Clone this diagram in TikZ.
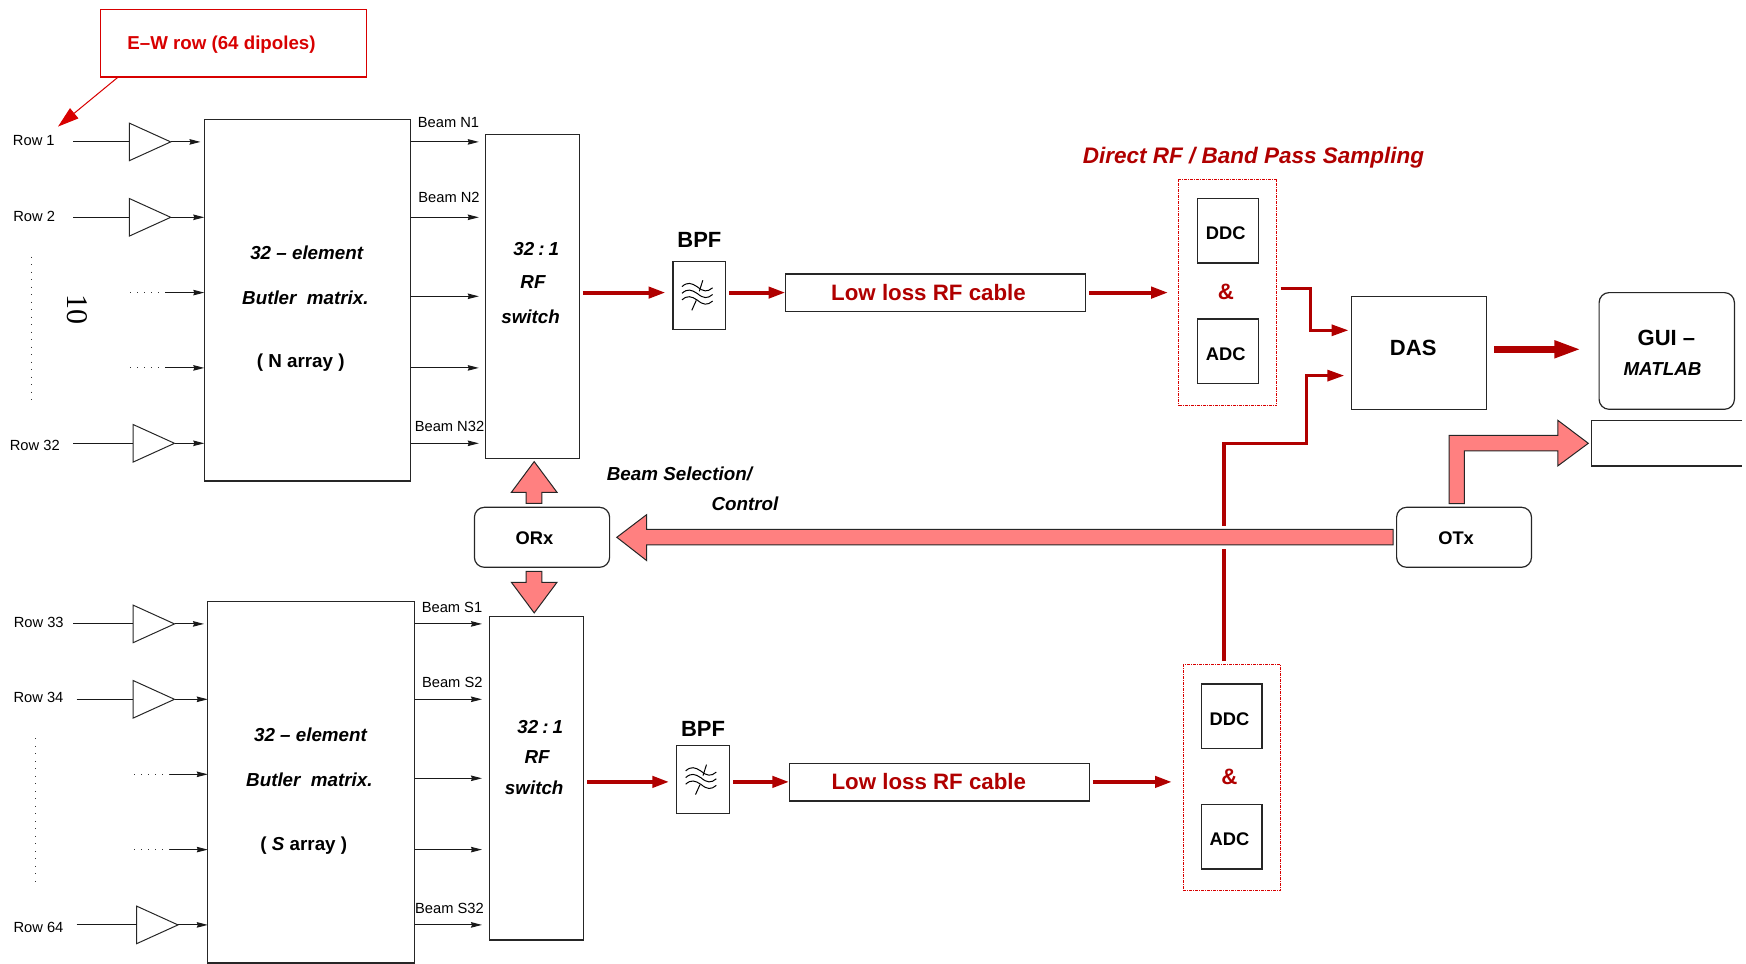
\documentclass[tikz,border=0pt]{standalone}
\usepackage{fontspec}
\setmainfont{Liberation Sans}
\newfontfamily\tenfont{Liberation Serif}
\usetikzlibrary{arrows.meta,shapes.geometric}
\definecolor{rfred}{HTML}{B00000}
\definecolor{ewred}{HTML}{D80000}
\definecolor{pinkfill}{HTML}{FF8080}
\newcommand{\bx}[6][box]{\node[#1,minimum width={(#5-#3)*1pt},minimum height={(#6-#4)*1pt}] (#2) at ({(#3+#5)/2},{(#4+#6)/2}) {};}
\newcommand{\tx}[5]{\node[#1] (#2) at (#3,#4) {#5};}
\newcommand{\filtersym}[1]{%
  \begin{scope}[shift={(#1)},line width=1]
    \foreach \dy in {0,6.7,13.3}{
      \draw (-17.3,-8.7+\dy) .. controls (-12,-13.5+\dy) and (-8,-12.5+\dy) .. (-2,-8.5+\dy)
            .. controls (4,-3.5+\dy) and (8,-3+\dy) .. (13.3,-7.5+\dy);
    }
    \draw (3.5,-15) -- (0,-4);
    \draw (-3,5) -- (-7.5,15);
  \end{scope}}
\newcommand{\ratio}{32\hspace{4pt}:\hspace{4pt}1}
\tikzset{
  box/.style={draw=black!85,line width=1.2,inner sep=0pt,outer sep=0pt},
  rbox/.style={box,rounded corners=10pt},
  dashbox/.style={draw=ewred,line width=1,inner sep=0pt,outer sep=0pt,dash pattern=on 3pt off 1pt on 1pt off 1pt},
  ewbox/.style={draw=ewred,line width=1.3,inner sep=0pt,outer sep=0pt},
  tri/.style={isosceles triangle,isosceles triangle stretches,draw=black!85,line width=1,inner sep=0pt,outer sep=0pt,minimum height=41.4pt,minimum width=37.6pt,anchor=apex},
  lab/.style={inner sep=0pt,font=\fontsize{14.7}{16}\selectfont},
  bi/.style={inner sep=0pt,font=\fontsize{18.8}{20}\selectfont\bfseries\itshape},
  bu/.style={inner sep=0pt,font=\fontsize{18.3}{20}\selectfont\bfseries},
  bl/.style={inner sep=0pt,font=\fontsize{22}{24}\selectfont\bfseries},
  rft/.style={inner sep=0pt,text=rfred,font=\fontsize{22.3}{24}\selectfont\bfseries},
  sig/.style={line width=1,draw=black!90,-{Stealth[length=11pt,width=5.5pt,inset=1pt]}},
  plain/.style={line width=1,draw=black!90},
  rowdots/.style={line width=1.1,draw=black!80,dash pattern=on 1.1pt off 5.9pt},
  coldots/.style={line width=1.1,draw=black!80,dash pattern=on 1.1pt off 6.4pt},
  rf/.style={line width=4,draw=rfred,-{Triangle[length=17pt,width=11pt]}},
  rfthin/.style={line width=3.2,draw=rfred,miter limit=10},
  blk/.style={fill=pinkfill,draw=black!85,line width=1,miter limit=10},
}
\begin{document}
\begin{tikzpicture}[x=1pt,y=-1pt]
\useasboundingbox (0,-0.6) rectangle (1746,963.4);
% E-W callout
\bx[ewbox]{ew}{100.3}{8.7}{366.6}{76.3}
\tx{inner sep=0pt,text=ewred,font=\fontsize{18.7}{20}\selectfont\bfseries}{ewt}{221.5}{44.5}{E–W row (64 dipoles)}
\coordinate (rowone) at (58,126);
\draw[line width=1,draw=ewred,-{Triangle[length=21pt,width=13pt]}] ([shift={(17.2,0.7)}]ew.south west) -- (rowone);
% Main blocks
\bx{nb}{204.3}{118.7}{410.6}{480.3}
\bx{ns}{485.3}{133.7}{579.8}{457.7}
\bx{sb}{207.8}{600.7}{414.8}{962.3}
\bx{ss}{489.5}{615.7}{583.2}{939.3}
% Butler N text
\tx{bi}{nb1}{306.7}{251.7}{32 – element}
\tx{bi}{nb2}{305.4}{296.7}{Butler\ \ matrix.}
\tx{inner sep=0pt,font=\fontsize{18.8}{20}\selectfont\bfseries}{nb3}{300.7}{362.5}{( N array )}
\tx{bi}{ns1}{536.2}{248}{\ratio}
\tx{bi}{ns2}{533}{281.7}{RF}
\tx{bi}{ns3}{530.6}{315.7}{switch}
% Butler S text
\tx{bi}{sb1}{310.5}{733.7}{32 – element}
\tx{bi}{sb2}{309.4}{778.7}{Butler\ \ matrix.}
\tx{inner sep=0pt,font=\fontsize{18.8}{20}\selectfont\bfseries}{sb3}{303.8}{844.8}{( \textit{S} array )}
\tx{bi}{ss1}{540.2}{726.7}{\ratio}
\tx{bi}{ss2}{537.2}{756.7}{RF}
\tx{bi}{ss3}{534.2}{786.7}{switch}
% Row labels
\tx{lab}{l1}{33.8}{140}{Row 1}
\tx{lab}{l2}{34.2}{216}{Row 2}
\tx{lab}{l32}{34.8}{445}{Row 32}
\tx{lab}{l33}{38.7}{622}{Row 33}
\tx{lab}{l34}{38.5}{697}{Row 34}
\tx{lab}{l64}{38.5}{926.7}{Row 64}
% Amplifiers
\node[tri] (t1) at (170.7,141.3) {};
\node[tri] (t2) at (170.7,216.7) {};
\node[tri] (t32) at (174.5,442.7) {};
\node[tri] (t33) at (174.5,623.3) {};
\node[tri] (t34) at (174.5,698.7) {};
\node[tri] (t64) at (178,924.3) {};
\coordinate (i1) at (73,141.3);
\coordinate (i2) at (73,216.7);
\coordinate (i32) at (73,442.7);
\coordinate (i33) at (73,623.3);
\coordinate (i34) at (76.5,698.7);
\coordinate (i64) at (76.5,924.3);
\foreach \n in {1,2,32,33,34,64}{\draw[plain] (i\n) -- (t\n.lower side);}
\draw[sig,shorten >=3.8pt] (t1.apex) -- (t1.apex -| nb.west);
\draw[sig] (t2.apex) -- (t2.apex -| nb.west);
\draw[sig] (t32.apex) -- (t32.apex -| nb.west);
\draw[sig,shorten >=3.8pt] (t33.apex) -- (t33.apex -| sb.west);
\draw[sig] (t34.apex) -- (t34.apex -| sb.west);
\draw[sig] (t64.apex) -- (t64.apex -| sb.west);
% Elided rows
\coordinate (da3) at (130,292);   \coordinate (db3) at (165,292);
\coordinate (da4) at (130,367.3); \coordinate (db4) at (165,367.3);
\coordinate (da5) at (134,773.7); \coordinate (db5) at (169.5,773.7);
\coordinate (da6) at (134,849);   \coordinate (db6) at (169.5,849);
\foreach \n in {3,4,5,6}{\draw[rowdots] (da\n) -- (db\n);}
\draw[sig] (db3) -- (db3 -| nb.west);
\draw[sig] (db4) -- (db4 -| nb.west);
\draw[sig] (db5) -- (db5 -| sb.west);
\draw[sig] (db6) -- (db6 -| sb.west);
\coordinate (ca) at (31.8,256);  \coordinate (cb) at (31.8,402.7);
\coordinate (cc) at (35.6,737.7); \coordinate (cd) at (35.6,884);
\draw[coldots] (ca) -- (cb);
\draw[coldots] (cc) -- (cd);
\node[inner sep=0pt,rotate=-90,font=\fontsize{30}{32}\selectfont\tenfont] (ten) at (77.5,309) {10};
% Beam labels and outputs
\tx{lab}{bn1}{448.5}{122}{Beam N1}
\tx{lab}{bn2}{449}{196.7}{Beam N2}
\tx{lab}{bn32}{449.5}{426}{Beam N32}
\tx{lab}{bs1}{452}{607}{Beam S1}
\tx{lab}{bs2}{452.3}{682}{Beam S2}
\tx{lab}{bs32}{449.5}{908}{Beam S32}
\foreach \y in {141.3,216.7,295.7,367.3,442.7}{\draw[sig,shorten >=6.5pt] (nb.east |- 0,\y) -- (ns.west |- 0,\y);}
\foreach \y in {623.3,698.7,777.7,849,924.3}{\draw[sig,shorten >=7.5pt] (sb.east |- 0,\y) -- (ss.west |- 0,\y);}
% North chain
\bx{fn}{673}{260.7}{725.7}{328.7}
\filtersym{699.3,294.7}
\tx{bl}{fnl}{699.4}{239}{BPF}
\bx{cn}{785.5}{273.3}{1085.5}{311}
\tx{rft}{cnl}{928.5}{292.2}{Low loss RF cable}
\bx[dashbox]{dn}{1178.6}{179}{1276.8}{405}
\bx{ddcn}{1197.6}{197.7}{1258.3}{262.3}
\bx{adcn}{1197.6}{318.3}{1258.3}{382.7}
\tx{bu}{ddcnl}{1225.8}{232.3}{DDC}
\tx{bu}{adcnl}{1225.8}{353.3}{ADC}
\tx{rft}{ampn}{1225.8}{291.5}{\&}
\tx{inner sep=0pt,text=rfred,font=\fontsize{22.5}{25}\selectfont\bfseries\itshape}{dir}{1253.5}{157}{Direct RF / Band Pass Sampling}
\draw[rf,shorten <=3.1pt,shorten >=7.4pt] (ns.east |- 0,292) -- (fn.west |- 0,292);
\draw[rf,shorten <=3.6pt,shorten >=0pt] (fn.east |- 0,292) -- (cn.west |- 0,292);
\draw[rf,shorten <=3.5pt,shorten >=10.4pt] (cn.east |- 0,292) -- (dn.west |- 0,292);
% South chain
\bx{fs}{676.8}{745}{729.5}{813}
\filtersym{703,779}
\tx{bl}{fsl}{703}{728}{BPF}
\bx{cs}{789.3}{762.7}{1089.7}{800.3}
\tx{rft}{csl}{928.8}{781}{Low loss RF cable}
\bx[dashbox]{ds}{1183}{664.3}{1280.4}{890.3}
\bx{ddcs}{1201.3}{683.3}{1262}{747.7}
\bx{adcs}{1201.3}{803.7}{1262}{868.3}
\tx{bu}{ddcsl}{1229.5}{718.3}{DDC}
\tx{bu}{adcsl}{1229.5}{838.3}{ADC}
\tx{rft}{amps}{1229.5}{776.7}{\&}
\draw[rf,shorten <=4.2pt,shorten >=7.5pt] (ss.east |- 0,781.3) -- (fs.west |- 0,781.3);
\draw[rf,shorten <=3.5pt,shorten >=0pt] (fs.east |- 0,781.3) -- (cs.west |- 0,781.3);
\draw[rf,shorten <=3.2pt,shorten >=11pt] (cs.east |- 0,781.3) -- (ds.west |- 0,781.3);
% DAS and GUI
\bx{das}{1351.8}{295.7}{1486.7}{408.7}
\tx{bl}{dasl}{1413.2}{347.7}{DAS}
\bx[rbox]{gui}{1599.1}{292}{1734.4}{408.7}
\tx{bl}{guil}{1666.4}{337.3}{GUI –}
\tx{bi}{guim}{1662.5}{368.3}{MATLAB}
\draw[rfthin,-{Triangle[length=17pt,width=11pt]},shorten >=3.3pt] ([shift={(3.9,-4)}]dn.east) -- (1310.4,288) -- (1310.4,329.7) -- (das.west |- 0,329.7);
\draw[rfthin,-{Triangle[length=17pt,width=11pt]},shorten >=7.5pt] (1223.9,525) -- (1223.9,442.7) -- (1306.6,442.7) -- (1306.6,375) -- (das.west |- 0,375);
\draw[rfthin] ([shift={(-7.8,-3.6)}]ds.north) -- (1223.9,548.3);
\draw[line width=7,draw=rfred,-{Triangle[length=27pt,width=16pt]},shorten <=7.7pt,shorten >=17.7pt] (das.east |- 0,348.7) -- (gui.west |- 0,348.7);
% Optical blocks
\bx[rbox]{orx}{474.4}{506.7}{609.6}{566.7}
\tx{bu}{orxl}{534.5}{537.3}{ORx}
\bx[rbox]{otx}{1396.6}{506.7}{1531.5}{566.7}
\tx{bu}{otxl}{1456.1}{537.3}{OTx}
\tx{bi}{sel1}{679.5}{473.3}{Beam Selection/}
\tx{bi}{sel2}{745}{503.3}{Control}
% Block arrows
\draw[blk] ([xshift=7.2pt]orx.east) -- (646.7,514) -- (646.7,528.7) -- ([shift={(-3.5,-8)}]otx.west) -- ([shift={(-3.5,7.6)}]otx.west) -- (646.7,544.3) -- (646.7,560) -- cycle;
\draw[blk] (534.2,461) -- (557,491.7) -- (541.8,491.7) -- (541.8,502.7) -- (526,502.7) -- (526,491.7) -- (511.4,491.7) -- cycle;
\draw[blk] (534.2,612.3) -- (557,581.7) -- (541.8,581.7) -- (541.8,570.7) -- (526,570.7) -- (526,581.7) -- (511.4,581.7) -- cycle;
\draw[blk] (1449.2,503) -- (1449.2,434.7) -- (1557.8,434.7) -- (1557.8,419.7) -- (1588.3,442.7) -- (1557.8,465.3) -- (1557.8,450.3) -- (1464.3,450.3) -- (1464.3,503) -- cycle;
% Open-ended box at the right edge
\coordinate (oa) at (1742,420); \coordinate (ob) at (1591.4,420);
\coordinate (oc) at (1591.4,465.3); \coordinate (od) at (1742,465.3);
\draw[line width=1.2,draw=black!85] (oa) -- (ob) -- (oc) -- (od);
\end{tikzpicture}
\end{document}
